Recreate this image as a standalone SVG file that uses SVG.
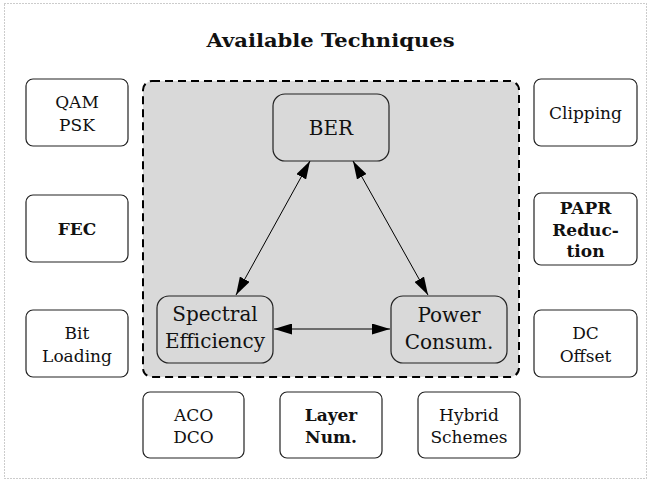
<svg xmlns="http://www.w3.org/2000/svg" width="651" height="482" viewBox="0 0 651 482">
<defs>
<style>
.box{fill:#fff;stroke:#222;stroke-width:1.2}
.inner{fill:#d9d9d9;stroke:#222;stroke-width:1.2}
text{font-family:'DejaVu Serif',serif;font-size:17px;fill:#111;text-anchor:middle}
.b{font-weight:bold}
.big{font-size:20px}
.edge{stroke:#000;stroke-width:1;fill:none;marker-start:url(#ah);marker-end:url(#ah)}
</style>
<marker id="ah" viewBox="0 0 18 11" refX="18" refY="5.5" markerWidth="18" markerHeight="11" markerUnits="userSpaceOnUse" orient="auto-start-reverse">
<path d="M0,0 L18,5.5 L0,11 z" fill="#000"/>
</marker>
</defs>
<rect x="4.5" y="3.5" width="642" height="475" fill="none" stroke="#999" stroke-width="1" stroke-dasharray="1,2"/>
<text class="b" x="330.5" y="47" style="font-size:19px" textLength="248" lengthAdjust="spacingAndGlyphs">Available Techniques</text>
<g id="core">
<rect x="143" y="81" width="376" height="296" rx="9" fill="#d9d9d9" stroke="#000" stroke-width="2" stroke-dasharray="8,5"/>
</g>
<g id="qam"><rect class="box" x="26" y="79" width="102" height="67" rx="7"/><text x="77" y="108">QAM</text><text x="77" y="131">PSK</text></g>
<g id="fec"><rect class="box" x="26" y="195" width="102" height="67" rx="7"/><text class="b" x="77" y="235">FEC</text></g>
<g id="bitloading"><rect class="box" x="26" y="310" width="102" height="67" rx="7"/><text x="77" y="339">Bit</text><text x="77" y="362">Loading</text></g>
<g id="clipping"><rect class="box" x="534" y="79" width="103" height="67" rx="7"/><text x="585.5" y="119">Clipping</text></g>
<g id="papr"><rect class="box" x="534" y="193" width="103" height="72" rx="7"/><text class="b" x="585.5" y="214">PAPR</text><text class="b" x="585.5" y="236">Reduc-</text><text class="b" x="585.5" y="257">tion</text></g>
<g id="dcoffset"><rect class="box" x="534" y="310" width="103" height="67" rx="7"/><text x="585.5" y="339">DC</text><text x="585.5" y="362">Offset</text></g>
<g id="acodco"><rect class="box" x="143" y="392" width="101" height="66" rx="7"/><text x="193.5" y="421">ACO</text><text x="193.5" y="443">DCO</text></g>
<g id="layernum"><rect class="box" x="280" y="392" width="102" height="66" rx="7"/><text class="b" x="331" y="421">Layer</text><text class="b" x="331" y="443">Num.</text></g>
<g id="hybrid"><rect class="box" x="418" y="392" width="102" height="66" rx="7"/><text x="469" y="421">Hybrid</text><text x="469" y="443">Schemes</text></g>
<g id="ber"><rect class="inner" x="273" y="94" width="116" height="67" rx="12"/><text class="big" x="331" y="135">BER</text></g>
<g id="spectral"><rect class="inner" x="157" y="296" width="116" height="67" rx="12"/><text class="big" x="215" y="321">Spectral</text><text class="big" x="215" y="348">Efficiency</text></g>
<g id="power"><rect class="inner" x="391" y="296" width="116" height="67" rx="12"/><text class="big" x="449" y="322">Power</text><text class="big" x="449" y="349">Consum.</text></g>
<g id="connectors">
<line class="edge" x1="310" y1="161" x2="236" y2="295"/>
<line class="edge" x1="353" y1="161" x2="428" y2="295"/>
<line class="edge" x1="274" y1="329" x2="390" y2="329"/>
</g>
</svg>
